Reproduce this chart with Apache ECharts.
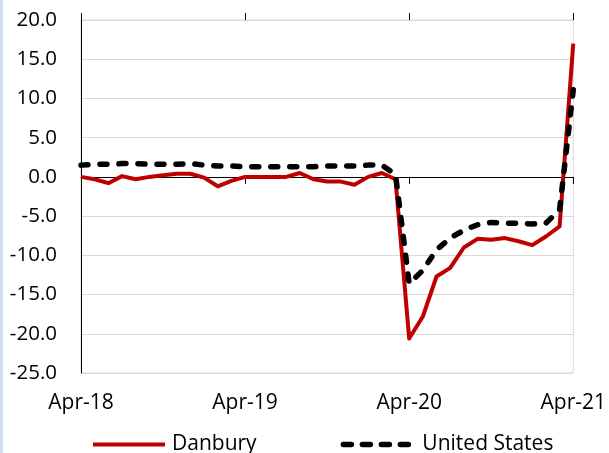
<!DOCTYPE html>
<html lang="en">
<head>
    <meta charset="UTF-8">
    <title>Danbury vs United States</title>
    <style>
        html,body{
            margin:0;
            padding:0;
            background:#fff;
        }
        #main{
            width:609px;
            height:453px;
        }
        #stripe{
            position:absolute;
            left:0;
            top:0;
            width:3px;
            height:453px;
            background:#d3dff2;
        }
    </style>
    <script type="text/javascript" src="https://cdn.jsdelivr.net/npm/echarts@6/dist/echarts.min.js"></script>
</head>
<body>
<div id="main"></div>
<div id="stripe"></div>
</body>
<script>
    // monthly, Apr-18 .. Apr-21
    let monthNames=['Jan','Feb','Mar','Apr','May','Jun','Jul','Aug','Sep','Oct','Nov','Dec'];
    let months=[];
    for(let i=0;i<37;i++){
        let m=(3+i)%12;
        let y=18+Math.floor((3+i)/12);
        months.push(monthNames[m]+'-'+y);
    }

    let danbury=[
        0.0,-0.3,-0.8,0.1,-0.3,0.0,0.2,0.4,0.4,-0.1,-1.2,-0.5,
        0.0,0.0,0.0,0.0,0.5,-0.3,-0.6,-0.6,-1.0,0.0,0.5,-0.3,
        -20.6,-17.8,-12.7,-11.6,-9.0,-7.9,-8.0,-7.8,-8.2,-8.7,-7.6,-6.3,
        17.0
    ];
    let unitedStates=[
        1.5,1.6,1.6,1.7,1.7,1.6,1.6,1.6,1.7,1.5,1.4,1.4,
        1.3,1.3,1.3,1.3,1.3,1.3,1.4,1.4,1.4,1.5,1.5,0.3,
        -13.6,-11.9,-9.3,-7.8,-6.8,-6.1,-5.8,-5.9,-5.9,-6.0,-5.9,-4.2,
        11.1
    ];

    let font='Open Sans';
    let chart=echarts.init(document.getElementById('main'));
    let option={
        animation:false,
        grid:{
            left:81,
            right:33,
            top:20,
            bottom:80,
            show:true,
            borderColor:'#d9d9d9',
            borderWidth:1
        },
        legend:{
            left:86,
            top:429,
            itemWidth:72,
            itemHeight:14,
            itemGap:84,
            itemStyle:{opacity:0},
            textStyle:{
                fontFamily:font,
                fontSize:21,
                color:'#000',
                padding:[0,0,0,2]
            },
            data:[
                {name:'Danbury',lineStyle:{width:4,color:'#c00000'}},
                {name:'United States',lineStyle:{width:5.5,color:'#000',type:[8,11],cap:'round'}}
            ]
        },
        xAxis:[
            {
                type:'category',
                data:months,
                boundaryGap:false,
                position:'bottom',
                axisLine:{show:false,onZero:false},
                axisTick:{show:false},
                axisLabel:{
                    interval:11,
                    margin:20,
                    fontFamily:font,
                    fontSize:21,
                    color:'#000'
                },
                splitLine:{show:false}
            },
            {
                type:'category',
                data:months,
                boundaryGap:false,
                position:'bottom',
                axisLine:{show:true,onZero:true,lineStyle:{color:'#000',width:1}},
                axisTick:{show:true,interval:11,length:7,lineStyle:{color:'#000'}},
                axisLabel:{show:false},
                splitLine:{show:false}
            },
            {
                type:'category',
                data:months,
                boundaryGap:false,
                position:'top',
                axisLine:{show:false,onZero:true},
                axisTick:{show:true,interval:11,length:7,lineStyle:{color:'#000'}},
                axisLabel:{show:false},
                splitLine:{show:false}
            }
        ],
        yAxis:{
            type:'value',
            min:-25,
            max:20,
            interval:5,
            axisLine:{show:true,lineStyle:{color:'#000',width:1}},
            axisTick:{show:false},
            axisLabel:{
                margin:24,
                fontFamily:font,
                fontSize:20.5,
                color:'#000',
                formatter:v=>v.toFixed(1)
            },
            splitLine:{lineStyle:{color:'#d9d9d9',width:1}}
        },
        series:[
            {
                name:'Danbury',
                type:'line',
                xAxisIndex:0,
                data:danbury,
                symbol:'none',
                lineStyle:{color:'#c00000',width:4,join:'round'},
                itemStyle:{color:'#c00000'}
            },
            {
                name:'United States',
                type:'line',
                xAxisIndex:0,
                data:unitedStates,
                symbol:'none',
                lineStyle:{color:'#000',width:5.5,type:[7,12],cap:'round',join:'round'},
                itemStyle:{color:'#000'}
            }
        ]
    };
    chart.setOption(option);
</script>
</html>
